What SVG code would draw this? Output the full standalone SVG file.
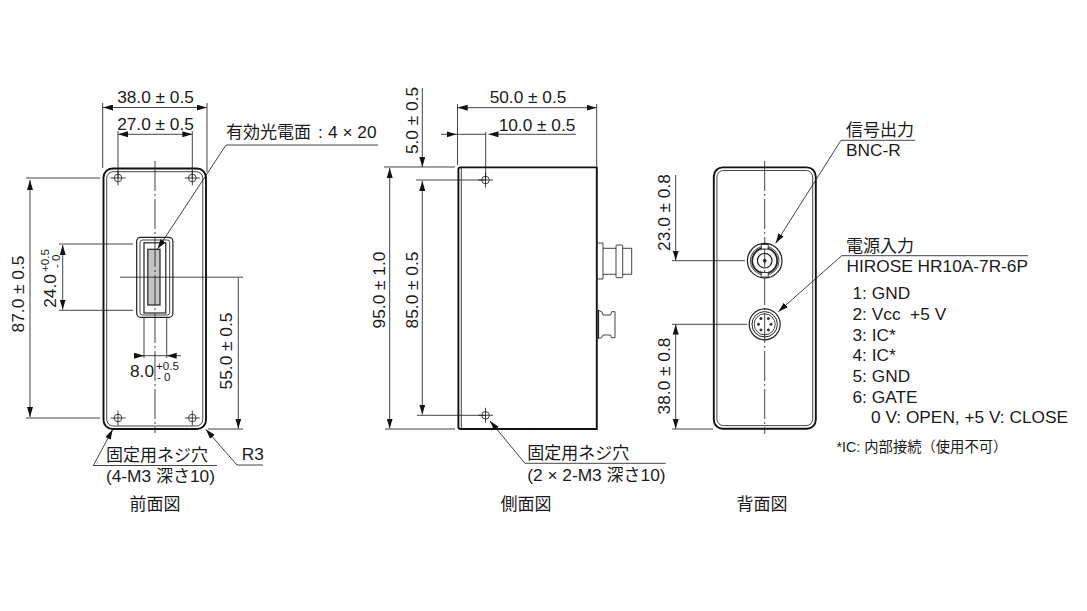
<svg xmlns="http://www.w3.org/2000/svg" width="1087" height="611" viewBox="0 0 1087 611">
<style>
text{font-family:"Liberation Sans","Noto Sans CJK JP",sans-serif;font-size:17.3px;fill:#1a1a1a}
.c{text-anchor:middle}
.s{font-size:11.6px}
.n{font-size:14.3px}
.j{font-family:"Noto Sans CJK JP","Liberation Sans",sans-serif;font-size:17px}
line,polyline,circle,rect,path{fill:none;stroke:#222;stroke-width:.85}
.b{stroke:#111;stroke-width:1.9}
.m{stroke:#222;stroke-width:1.2}
.cl{stroke-dasharray:30 3 2 3}
.ar{marker-end:url(#a)}
.as{marker-start:url(#as)}
#a path,#as path{fill:#111;stroke:none}
</style>
<defs>
<marker id="a" markerUnits="userSpaceOnUse" markerWidth="11" markerHeight="7" refX="10" refY="3" orient="auto"><path d="M0 0L10 3L0 6Z"/></marker>
<marker id="as" markerUnits="userSpaceOnUse" markerWidth="11" markerHeight="7" refX="0" refY="3" orient="auto"><path d="M10 0L0 3L10 6Z"/></marker>
<g id="hole"><circle r="3.8"/><line x1="-7.5" x2="7.5" y1="0" y2="0"/><line x1="0" x2="0" y1="-7.5" y2="7.5"/></g>
</defs>
<rect x="0" y="0" width="1087" height="611" style="fill:#fff;stroke:none"/>

<g id="front-view">
<rect class="b" x="103.5" y="168.5" width="102.5" height="260.5" rx="9"/>
<rect x="106.7" y="171.7" width="96.1" height="254.3" rx="6.5"/>
<use href="#hole" x="118" y="178"/><use href="#hole" x="192.3" y="178"/>
<use href="#hole" x="118" y="418"/><use href="#hole" x="192.3" y="418"/>
<rect x="136.7" y="237.3" width="36.2" height="80" rx="4" class="m"/>
<rect x="140" y="240" width="29.7" height="75" rx="2.5"/>
<rect x="144" y="242.8" width="21.8" height="70.2" class="m"/>
<rect class="m" x="147.8" y="249.3" width="12.2" height="55.7" style="fill:#c4c4c4"/>
<line class="cl" x1="155" x2="155" y1="161" y2="433"/>
<line x1="120" x2="243" y1="277.2" y2="277.2"/>
</g>

<g id="side-view">
<path class="b" d="M458.4 427V169.5Q458.4 167.4 460.5 167.4H596.8V429H460.5Q458.4 429 458.4 427Z"/>
<line x1="461.3" x2="461.3" y1="168" y2="428"/>
<use href="#hole" x="485.5" y="180"/><use href="#hole" x="485.5" y="415.3"/>
<path d="M597.5 243H603V279H597.5M603 248.3H616M603 274.3H616"/>
<rect x="616" y="245" width="6.7" height="32.7" rx="1"/>
<path d="M622.7 248.3H631.7V274.3H622.7"/>
<path d="M598 310L601.7 311.7L603 315H610.7L611.7 311.7H615V337.7H611.5L610.5 335H603L601.7 337.7L598 338.5"/>
<line x1="598.5" x2="598.5" y1="310" y2="338" class="m"/>
</g>

<g id="back-view">
<rect class="b" x="713.8" y="167.4" width="102" height="261.3" rx="9"/>
<rect x="716.9" y="170.5" width="95.8" height="255.1" rx="6.5"/>
<line class="cl" x1="764.7" x2="764.7" y1="161" y2="434"/>
</g>

<g id="bnc-connector">
<circle class="m" cx="764.7" cy="260.7" r="17.3"/>
<circle cx="764.7" cy="260.7" r="14.4"/>
<circle cx="764.7" cy="260.7" r="12.5" style="stroke-width:1.8"/>
<circle class="m" cx="764.7" cy="260.7" r="7.3"/>
<circle cx="764.7" cy="260.7" r="1.5" style="fill:#222"/>
<rect x="761.2" y="244.5" width="7" height="4.5" style="fill:#fff"/>
<rect x="761.2" y="272.5" width="7" height="4.5" style="fill:#fff"/>
</g>

<g id="hirose-connector">
<circle class="m" cx="764.7" cy="324.3" r="15.5"/>
<circle cx="764.7" cy="324.3" r="12.7" style="stroke-width:1"/>
<circle cx="764.7" cy="324.3" r="10.5"/>
<circle cx="761" cy="318.6" r="1.1" style="fill:#333"/><circle cx="768.4" cy="318.6" r="1.1" style="fill:#333"/>
<circle cx="771" cy="324.3" r="1.1" style="fill:#333"/><circle cx="758.5" cy="324.3" r="1.1" style="fill:#333"/>
<circle cx="761" cy="330" r="1.1" style="fill:#333"/><circle cx="768.4" cy="330" r="1.1" style="fill:#333"/>
</g>

<g id="connectors">
<line x1="102.7" x2="102.7" y1="103" y2="168"/><line x1="207" x2="207" y1="103" y2="172"/>
<line x1="118" x2="118" y1="131" y2="178"/><line x1="192.3" x2="192.3" y1="131" y2="178"/>
<line x1="26" x2="100" y1="178" y2="178"/><line x1="26" x2="100" y1="418" y2="418"/>
<line x1="59" x2="133" y1="244" y2="244"/><line x1="59" x2="133" y1="310.3" y2="310.3"/>
<line x1="144" x2="144" y1="318" y2="358"/><line x1="166.7" x2="166.7" y1="318" y2="358"/>
<line x1="208" x2="243" y1="429" y2="429"/>
<line class="ar as" x1="103" x2="206.7" y1="107.5" y2="107.5"/>
<line class="ar as" x1="118" x2="192.3" y1="134.3" y2="134.3"/>
<line class="ar as" x1="30" x2="30" y1="180" y2="417"/>
<line class="ar as" x1="62.7" x2="62.7" y1="245" y2="309.5"/>
<line class="ar" x1="238.3" x2="238.3" y1="278" y2="428.5"/>
<line class="ar" x1="134" x2="144" y1="355.7" y2="355.7"/>
<line class="ar" x1="181" x2="166.7" y1="355.7" y2="355.7"/>
<line x1="144" x2="166.7" y1="355.7" y2="355.7"/>
<polyline class="ar" points="378,145 226,145 157.5,249"/>
<polyline class="ar" points="217,465.5 93.3,465.5 112.7,429.5"/>
<polyline class="ar" points="263,465 237,465 205.8,429.3"/>
<line x1="457.5" x2="457.5" y1="104" y2="165"/><line x1="596.7" x2="596.7" y1="104" y2="166"/>
<line class="ar as" x1="457.7" x2="596.5" y1="107.7" y2="107.7"/>
<line class="ar" x1="441" x2="456.5" y1="134.3" y2="134.3"/>
<line class="ar" x1="576" x2="488.5" y1="134.3" y2="134.3"/>
<line x1="456" x2="486" y1="134.3" y2="134.3"/>
<line x1="485.7" x2="485.7" y1="132" y2="180"/>
<line x1="384" x2="455" y1="167" y2="167"/><line x1="385" x2="455" y1="429" y2="429"/>
<line x1="416" x2="485" y1="180" y2="180"/><line x1="417" x2="485" y1="415.3" y2="415.3"/>
<line class="ar" x1="422.3" x2="422.3" y1="88" y2="167"/>
<line class="ar as" x1="422.3" x2="422.3" y1="181" y2="414.5"/>
<line class="ar as" x1="389.7" x2="389.7" y1="168" y2="428.5"/>
<polyline class="ar" points="665.7,463.3 525,463.3 490,421"/>
<line x1="672" x2="745" y1="260.7" y2="260.7"/><line x1="672" x2="747" y1="324.3" y2="324.3"/>
<line x1="672" x2="713" y1="429" y2="429"/>
<line class="ar" x1="675.7" x2="675.7" y1="175" y2="260.5"/>
<line class="ar as" x1="675.7" x2="675.7" y1="324.5" y2="428.7"/>
<polyline class="ar" points="915,140.3 841,140.3 775.7,243.3"/>
<polyline class="ar" points="1028,255.7 841.7,255.7 778.3,311.7"/>
</g>

<g id="labels">
<text class="c" x="155.5" y="103">38.0 ± 0.5</text>
<text class="c" x="155.5" y="130">27.0 ± 0.5</text>
<text x="226" y="138"><tspan class="j">有効光電面</tspan><tspan x="318">:</tspan><tspan x="328">4 × 20</tspan></text>
<text class="c" transform="translate(24 294) rotate(-90)">87.0 ± 0.5</text>
<text class="c" transform="translate(56 291) rotate(-90)">24.0</text>
<text class="s" transform="translate(49 272) rotate(-90)">+0.5</text>
<text class="s" transform="translate(60 268) rotate(-90)">- 0</text>
<text class="c" transform="translate(231.7 351) rotate(-90)">55.0 ± 0.5</text>
<text x="130" y="377">8.0</text>
<text class="s" x="156" y="369.5">+0.5</text>
<text class="s" x="157" y="380.5">- 0</text>
<text class="j" x="106" y="461">固定用ネジ穴</text>
<text x="106" y="481.5">(4-M3 <tspan class="j">深さ</tspan>10)</text>
<text x="241.7" y="460">R3</text>
<text class="j c" x="155" y="510">前面図</text>

<text class="c" x="528" y="103">50.0 ± 0.5</text>
<text class="c" x="537" y="131">10.0 ± 0.5</text>
<text class="c" transform="translate(417.7 120.5) rotate(-90)">5.0 ± 0.5</text>
<text class="c" transform="translate(385 290) rotate(-90)">95.0 ± 1.0</text>
<text class="c" transform="translate(417.7 290) rotate(-90)">85.0 ± 0.5</text>
<text class="j" x="527.3" y="459">固定用ネジ穴</text>
<text x="527.3" y="480.5">(2 × 2-M3 <tspan class="j">深さ</tspan>10)</text>
<text class="j c" x="526" y="510">側面図</text>

<text class="c" transform="translate(670 212.5) rotate(-90)">23.0 ± 0.8</text>
<text class="c" transform="translate(670 376) rotate(-90)">38.0 ± 0.8</text>
<text class="j c" x="762" y="510">背面図</text>

<text class="j" x="846" y="136">信号出力</text>
<text x="846" y="156">BNC-R</text>
<text class="j" x="846" y="251.5">電源入力</text>
<text x="846.5" y="271.7">HIROSE HR10A-7R-6P</text>
<text x="852.5" y="299.3">1: GND</text>
<text x="852.5" y="320">2: Vcc&#160;&#160;+5 V</text>
<text x="852.5" y="340.5">3: IC*</text>
<text x="852.5" y="361">4: IC*</text>
<text x="852.5" y="382">5: GND</text>
<text x="852.5" y="402.5">6: GATE</text>
<text x="871" y="423">0 V: OPEN, +5 V: CLOSE</text>
<text class="n" x="836.5" y="452">*IC: <tspan style="font-family:'Noto Sans CJK JP',sans-serif">内部接続（使用不可）</tspan></text>
</g>
</svg>
